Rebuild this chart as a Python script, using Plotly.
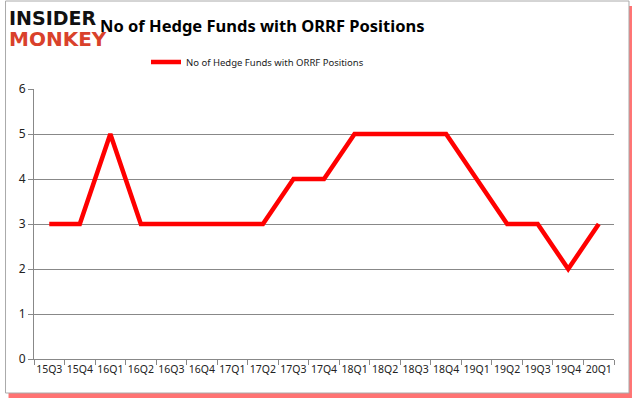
import plotly.graph_objects as go

quarters = ["15Q3", "15Q4", "16Q1", "16Q2", "16Q3", "16Q4", "17Q1", "17Q2", "17Q3", "17Q4",
            "18Q1", "18Q2", "18Q3", "18Q4", "19Q1", "19Q2", "19Q3", "19Q4", "20Q1"]
hedge_funds = [3, 3, 5, 3, 3, 3, 3, 3, 4, 4, 5, 5, 5, 5, 4, 3, 3, 2, 3]
series_name = "No of Hedge Funds with ORRF Positions"
title_text = "No of Hedge Funds with ORRF Positions"

W, H = 635, 405
L, R, T, B = 33.5, 21, 89, 46
pw, ph = W - L - R, H - T - B

def px(x):
    return (x - L) / pw

def py(y):
    return (H - B - y) / ph

fig = go.Figure()
fig.add_trace(go.Scatter(
    x=quarters, y=hedge_funds, mode="lines", name=series_name,
    line=dict(color="#ff0000", width=4.5), showlegend=True,
))

fig.update_layout(
    width=W, height=H,
    margin=dict(l=L, r=R, t=T, b=B, autoexpand=False),
    paper_bgcolor="white", plot_bgcolor="white",
    font=dict(family="Noto Sans", size=11, color="#222222"),
    showlegend=True,
    legend=dict(orientation="h", xref="container", yref="container",
                x=146 / W, xanchor="left", y=1 - 62 / H, yanchor="middle",
                font=dict(family="Noto Sans", size=9.5, color="#222222"),
                bgcolor="rgba(0,0,0,0)"),
    xaxis=dict(type="category", range=[-0.5, len(quarters) - 0.5],
               showgrid=False, showline=True, linecolor="#888888", linewidth=1,
               ticks="outside", ticklen=5, tickcolor="#888888", tickangle=0,
               tickson="boundaries", tickfont=dict(family="Noto Sans", size=10.5, color="#222222"),
               zeroline=False, fixedrange=True, automargin=False),
    yaxis=dict(range=[0, 6], dtick=1, showgrid=True, gridcolor="#888888", gridwidth=1,
               showline=True, linecolor="#888888", linewidth=1,
               ticks="outside", ticklen=5, tickcolor="#888888",
               tickfont=dict(family="Noto Sans", size=12, color="#222222"),
               zeroline=False, fixedrange=True, automargin=False),
    shapes=[
        # red shadow
        dict(type="rect", xref="paper", yref="paper", layer="below",
             x0=px(8), x1=px(632), y0=py(398), y1=py(6),
             line=dict(width=0), fillcolor="rgba(255,0,0,0.55)"),
        dict(type="rect", xref="paper", yref="paper", layer="below",
             x0=px(5), x1=px(629), y0=py(393), y1=py(1),
             line=dict(color="#aaaaaa", width=1), fillcolor="white"),
    ],
    annotations=[
        dict(text="<b>" + title_text + "</b>", xref="paper", yref="paper",
             x=px(262), y=py(25), xanchor="center", yanchor="middle", showarrow=False,
             font=dict(family="Noto Sans", size=16.5, color="#000000")),
        dict(text="<b>INSIDER</b>", xref="paper", yref="paper",
             x=px(6), y=py(18), xanchor="left", yanchor="middle", showarrow=False,
             font=dict(family="DejaVu Sans", size=19, color="#111111")),
        dict(text="<b>MONKEY</b>", xref="paper", yref="paper",
             x=px(6), y=py(39), xanchor="left", yanchor="middle", showarrow=False,
             font=dict(family="DejaVu Sans", size=20, color="#d9412b")),
    ],
)

fig.write_html("out.html", post_script="document.body.style.margin='0';",
               config={"displayModeBar": False})
